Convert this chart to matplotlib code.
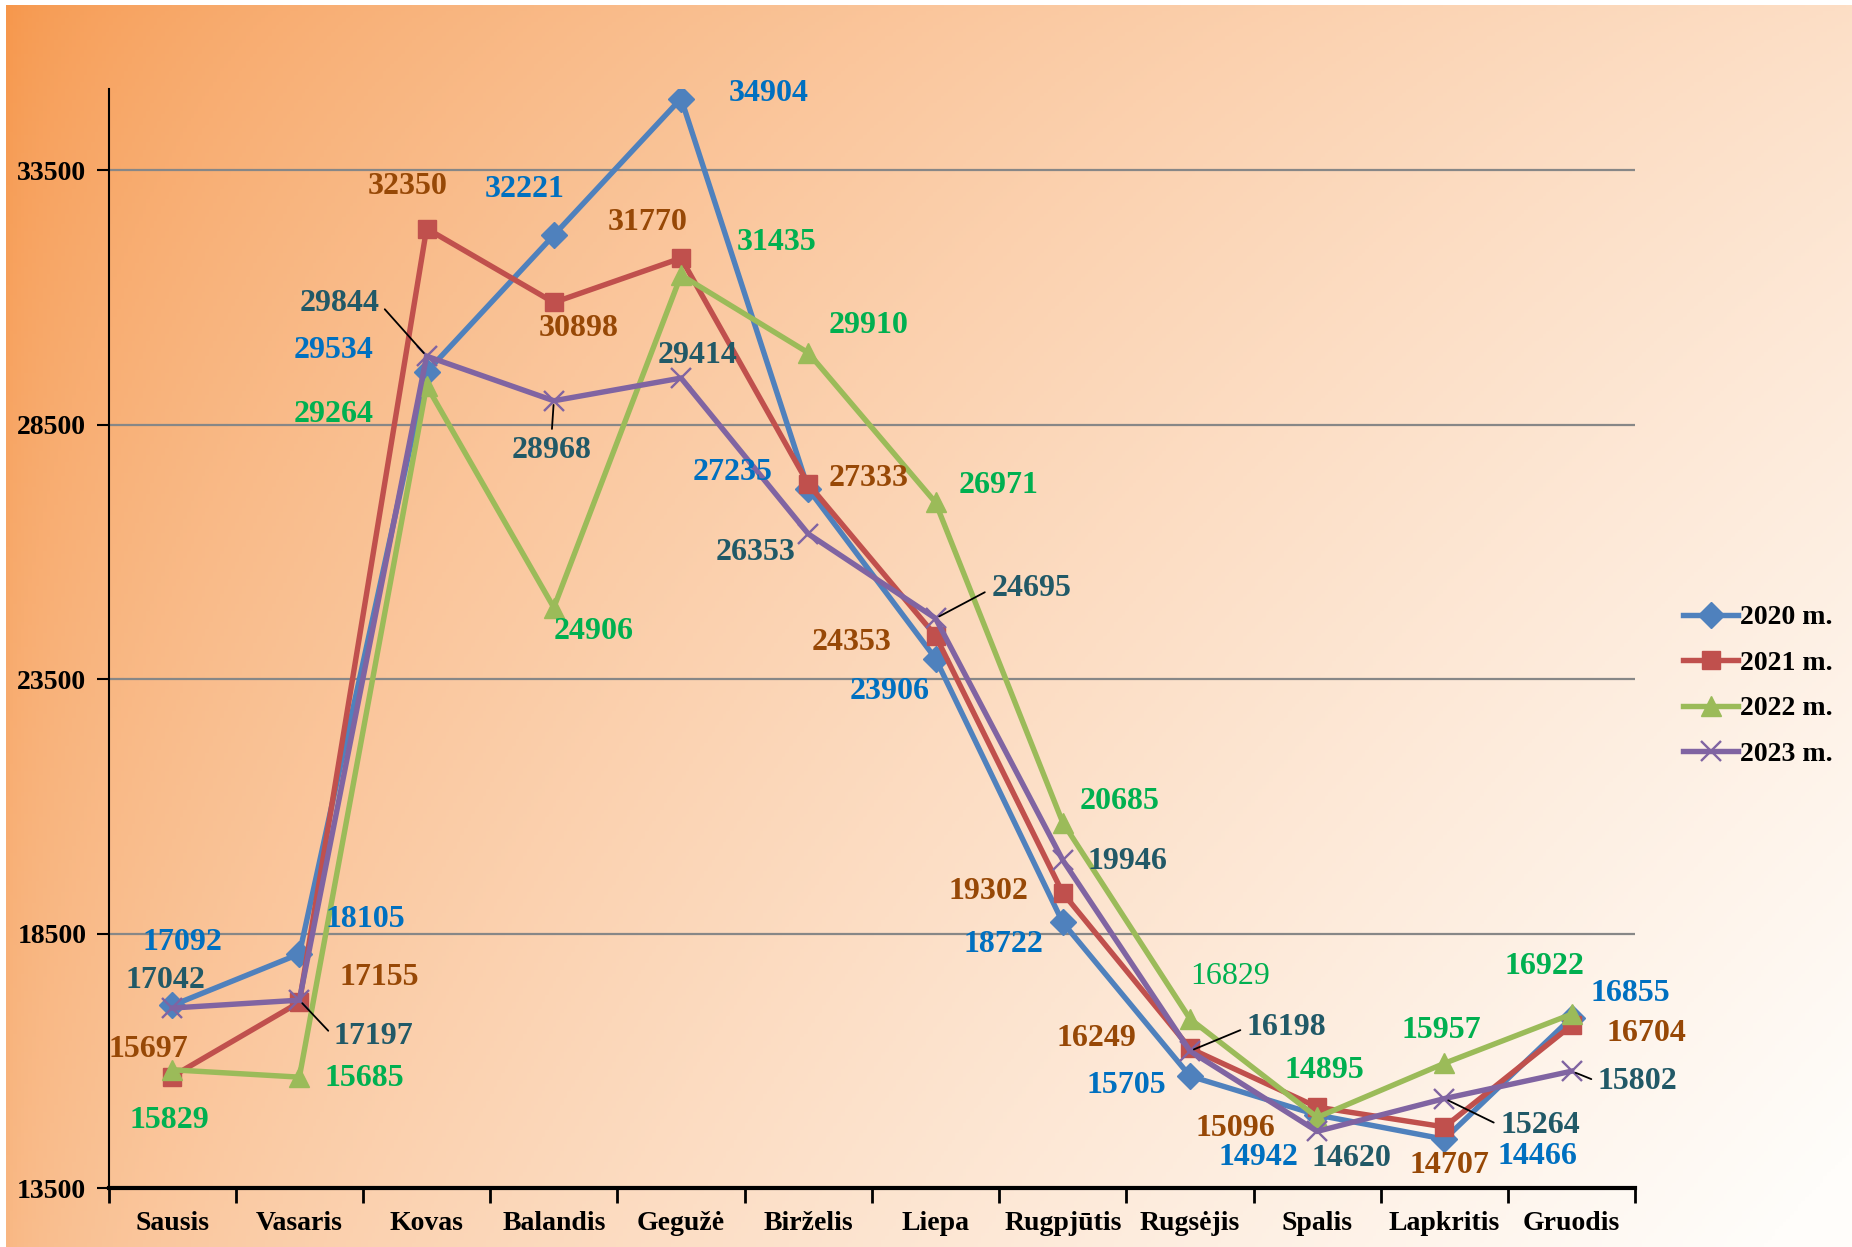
import numpy as np
import matplotlib
matplotlib.use("Agg")
import matplotlib.pyplot as plt

months = ["Sausis", "Vasaris", "Kovas", "Balandis", "Gegužė", "Birželis",
          "Liepa", "Rugpjūtis", "Rugsėjis", "Spalis", "Lapkritis", "Gruodis"]
series_names = ["2020 m.", "2021 m.", "2022 m.", "2023 m."]
v2020 = [17092, 18105, 29534, 32221, 34904, 27235, 23906, 18722, 15705, 14942, 14466, 16855]
v2021 = [15697, 17155, 32350, 30898, 31770, 27333, 24353, 19302, 16249, 15096, 14707, 16704]
v2022 = [15829, 15685, 29264, 24906, 31435, 29910, 26971, 20685, 16829, 14895, 15957, 16922]
v2023 = [17042, 17197, 29844, 28968, 29414, 26353, 24695, 19946, 16198, 14620, 15264, 15802]
yticks = [13500, 18500, 23500, 28500, 33500]

# styles
line_colors = ["#4F81BD", "#C0504D", "#9BBB59", "#8064A2"]
label_colors = ["#0070C0", "#974806", "#00B050", "#215967"]
markers = ["D", "s", "^", "x"]
msizes = [13, 13, 14, 14]

# label offsets (pixels in the 1568-wide preview) relative to each point
offsets = [
    [(9, -53), (56, -29), (-79, -18), (-25, -39), (74, -4), (-64, -14),
     (-39, 28), (-50, 19), (-54, 8), (-50, 36), (79, 15), (50, -20)],
    [(-20, -23), (68, -21), (-16, -36), (21, 22), (-28, -30), (51, -5),
     (-71, 6), (-63, -1), (-79, -8), (-69, 18), (4, 33), (63, 7)],
    [(-2, 43), (55, 1), (-79, 24), (34, 20), (81, -28), (51, -23),
     (53, -14), (48, -18), (34, -36), (6, -40), (-3, -28), (-23, -40)],
    [(-6, -23), (63, 31), (-74, -45), (-2, 42), (14, -19), (-45, 16),
     (81, -25), (55, 1), (82, -20), (29, 23), (81, 23), (56, 9)],
]
leaders = {(3, 1): (0, 0.5), (3, 2): (1, 0.5), (3, 3): (0.5, 1), (3, 6): (0, 0.5),
           (3, 8): (0, 0.5), (3, 10): (0, 0.5), (3, 11): (0, 0.5)}
not_bold = {(2, 8)}

W, H, DPI = 1852, 1247, 100
fig = plt.figure(figsize=(W / DPI, H / DPI), dpi=DPI)
fig.patch.set_facecolor("white")

# gradient background
bg = fig.add_axes([0.003, 0.0, 0.997, 0.996], zorder=-10)
bg.set_axis_off()
nx, ny = 500, 350
gx, gy = np.meshgrid(np.linspace(0, 1, nx), np.linspace(0, 1, ny))
t = np.clip(0.70 * gx ** 0.6 + 0.32 * gy ** 0.8, 0, 1)
c0 = np.array([246, 150, 74]) / 255
c1 = np.array([255, 253, 250]) / 255
img = c0[None, None, :] * (1 - t[..., None]) + c1[None, None, :] * t[..., None]
bg.imshow(img, extent=[0, 1, 0, 1], origin="upper", aspect="auto")
bg.set_xlim(0, 1); bg.set_ylim(0, 1)

L, R, B, T = 0.0586, 0.883, 0.047, 0.929
ax = fig.add_axes([L, B, R - L, T - B])
ax.set_facecolor("none")

x = np.arange(len(months)) + 0.5
data = [v2020, v2021, v2022, v2023]
handles = []
for k, vals in enumerate(data):
    mew = 1.7 if markers[k] == "x" else 1
    ln, = ax.plot(x, vals, color=line_colors[k], lw=3.9, marker=markers[k],
                  markersize=msizes[k], markeredgewidth=mew,
                  markerfacecolor=line_colors[k], markeredgecolor=line_colors[k],
                  zorder=3 + k, solid_joinstyle="miter")
    handles.append(ln)

scale = 1.181 * 72 / DPI
serif = ["Liberation Serif", "DejaVu Serif"]
for k, vals in enumerate(data):
    for i, v in enumerate(vals):
        dx, dy = offsets[k][i]
        kw = dict(xy=(x[i], v), xytext=(dx * scale, -dy * scale),
                  textcoords="offset points", ha="center", va="center",
                  fontsize=23, family=serif, color=label_colors[k],
                  fontweight="normal" if (k, i) in not_bold else "bold", zorder=10)
        if (k, i) in leaders:
            kw["arrowprops"] = dict(arrowstyle="-", color="black", lw=1.3,
                                    shrinkA=3, shrinkB=3, relpos=leaders[(k, i)])
        ax.annotate(str(v), **kw)

ax.set_xlim(0, len(months))
ax.set_ylim(13500, 35100)
ax.set_yticks(yticks)
ax.set_yticklabels([str(v) for v in yticks], fontsize=20, family=serif, fontweight="bold")
ax.set_xticks(x)
ax.set_xticklabels(months, fontsize=20, family=serif, fontweight="bold")
ax.set_xticks(np.arange(0, len(months) + 1), minor=True)
ax.tick_params(axis="x", which="major", length=0, pad=16)
ax.tick_params(axis="x", which="minor", length=11, width=2, direction="out", color="black")
ax.tick_params(axis="y", which="major", length=9, width=1.5, pad=7, color="black")
ax.grid(axis="y", color="#878787", lw=1.6, zorder=1)
ax.set_axisbelow(True)
for s in ["top", "right"]:
    ax.spines[s].set_visible(False)
ax.spines["left"].set_linewidth(1.5)
ax.spines["bottom"].set_linewidth(3)

leg = fig.legend(handles, series_names, loc="center left", bbox_to_anchor=(0.8955, 0.450),
                 frameon=False, handlelength=1.95, handletextpad=0.1, labelspacing=0.72,
                 prop=dict(family="Liberation Serif", weight="bold", size=20))

fig.savefig("out.png", dpi=DPI)
